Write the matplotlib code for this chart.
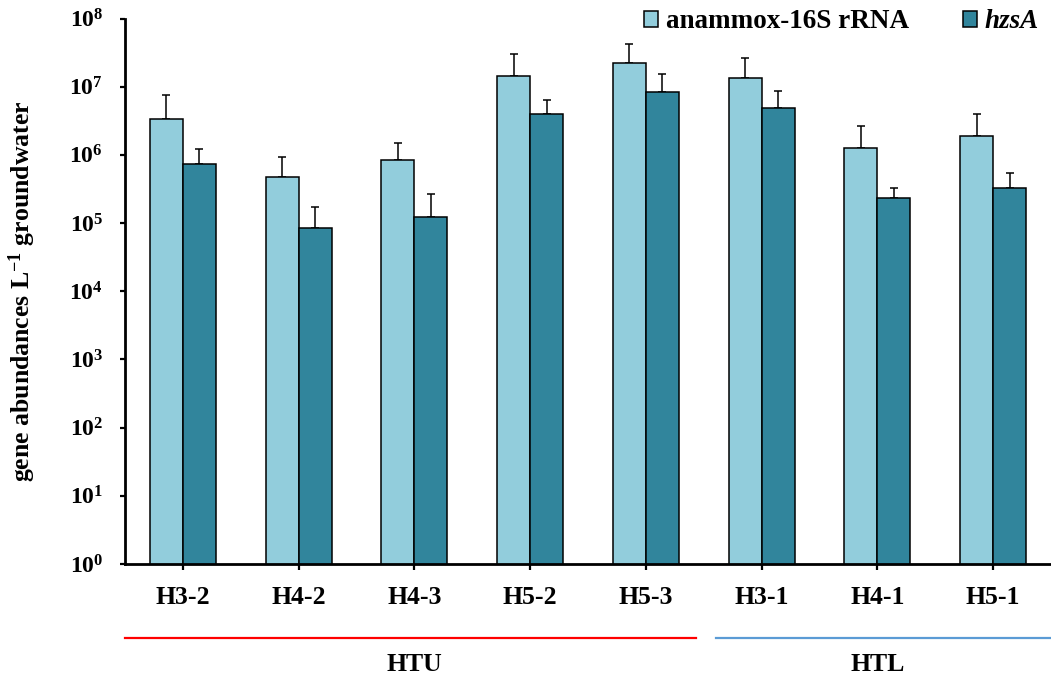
import numpy as np
import matplotlib
matplotlib.use("Agg")
import matplotlib.pyplot as plt
from matplotlib.patches import Patch
import matplotlib.transforms as mtransforms

# Sampling wells and group membership
sites = ["H3-2", "H4-2", "H4-3", "H5-2", "H5-3", "H3-1", "H4-1", "H5-1"]
groups = ["HTU", "HTL"]
group_sizes = [5, 3]

# Gene copies per litre of groundwater (means and upper error)
rrna_16s = [3.33e6, 4.74e5, 8.4e5, 1.43e7, 2.25e7, 1.34e7, 1.28e6, 1.91e6]
rrna_16s_upper = [7.55e6, 9.4e5, 1.48e6, 3.05e7, 4.27e7, 2.61e7, 2.65e6, 4.02e6]
hzsa = [7.3e5, 8.4e4, 1.23e5, 4.02e6, 8.45e6, 4.87e6, 2.36e5, 3.24e5]
hzsa_upper = [1.23e6, 1.72e5, 2.67e5, 6.38e6, 1.54e7, 8.74e6, 3.3e5, 5.43e5]

series_names = ["anammox-16S rRNA", "hzsA"]
light_blue = "#92CDDC"
teal = "#31859C"

plt.rcParams["font.family"] = ["Liberation Serif", "DejaVu Serif"]
plt.rcParams["font.weight"] = "bold"
plt.rcParams["mathtext.fontset"] = "custom"
plt.rcParams["mathtext.rm"] = "Liberation Serif:bold"
plt.rcParams["mathtext.bf"] = "Liberation Serif:bold"
plt.rcParams["mathtext.it"] = "Liberation Serif:bold:italic"

fig = plt.figure(figsize=(10.51, 6.75), dpi=100)
ax = fig.add_axes([125 / 1051, 1 - 564 / 675, 926 / 1051, 545.5 / 675])

x = np.arange(len(sites))
w = 0.285

a = np.array(rrna_16s)
b = np.array(hzsa)
ea = np.array(rrna_16s_upper) - a
eb = np.array(hzsa_upper) - b

ax.bar(x - w / 2, a, width=w, color=light_blue, edgecolor="black",
       linewidth=1.1, zorder=2)
ax.bar(x + w / 2, b, width=w, color=teal, edgecolor="black",
       linewidth=1.1, zorder=2)
ax.errorbar(x - w / 2, a, yerr=[np.zeros_like(ea), ea], fmt="none",
            ecolor="black", elinewidth=1.1, capsize=2.9, capthick=1.1, zorder=1)
ax.errorbar(x + w / 2, b, yerr=[np.zeros_like(eb), eb], fmt="none",
            ecolor="black", elinewidth=1.1, capsize=2.9, capthick=1.1, zorder=1)

ax.set_yscale("log")
ax.set_ylim(1, 1e8)
ax.set_xlim(-0.5, len(sites) - 0.5)
ax.set_yticks([10 ** k for k in range(9)])
ax.set_yticklabels([rf"$10^{{{k}}}$" for k in range(9)], fontsize=17)
ax.yaxis.set_minor_locator(matplotlib.ticker.NullLocator())
ax.set_xticks(x)
ax.set_xticklabels(sites, fontsize=18.5, fontweight="bold")

ax.tick_params(axis="y", length=3.8, width=1.6, pad=12, direction="out")
ax.tick_params(axis="x", length=4.5, width=1.6, pad=11, direction="out")

for s in ["top", "right"]:
    ax.spines[s].set_visible(False)
for s in ["left", "bottom"]:
    ax.spines[s].set_linewidth(2.0)

ax.set_ylabel(r"gene abundances L$^{\mathregular{-1}}$ groundwater", fontsize=18.5,
              fontweight="bold")
ax.yaxis.set_label_coords(-0.094, 0.5)

# Group brackets below the site labels
trans = mtransforms.blended_transform_factory(ax.transData, ax.transAxes)
y_line = -0.1357
y_text = -0.185
start = -0.5
line_colors = ["#FF0000", "#5B9BD5"]
for gname, n, col, gap in zip(groups, group_sizes, line_colors, [(0.0, 0.07), (0.11, 0.0)]):
    x0 = start + gap[0]
    x1 = start + n - gap[1]
    ax.plot([x0, x1], [y_line, y_line], color=col, linewidth=1.6,
            transform=trans, clip_on=False)
    ax.text(start + n / 2, y_text, gname, transform=trans, ha="center",
            va="center", fontsize=18.5, fontweight="bold")
    start += n

handles = [Patch(facecolor=light_blue, edgecolor="black", linewidth=1.1),
           Patch(facecolor=teal, edgecolor="black", linewidth=1.1)]
leg = fig.legend(handles, series_names, loc="center left",
                 bbox_to_anchor=(644 / 1051, 1 - 22 / 675), ncol=2,
                 frameon=False, fontsize=19.5, handlelength=0.5,
                 handleheight=0.55, handletextpad=0.3, columnspacing=2.0,
                 borderpad=0, borderaxespad=0)
for t in leg.get_texts():
    t.set_fontweight("bold")
leg.get_texts()[1].set_fontstyle("italic")

fig.savefig("out.png", dpi=100)
